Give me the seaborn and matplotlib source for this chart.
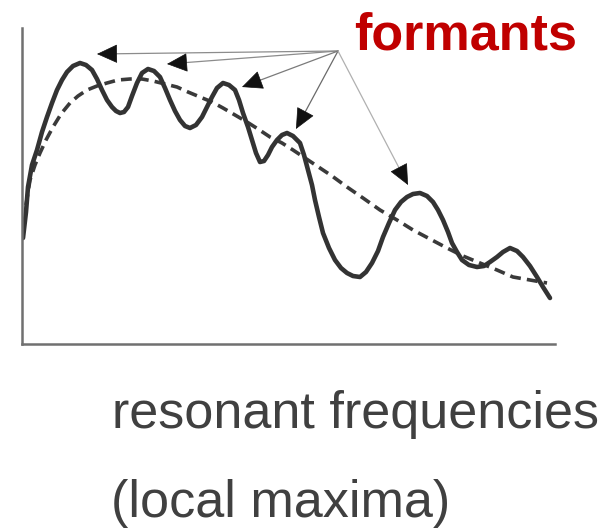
import numpy as np
import pandas as pd
import seaborn as sns
import matplotlib.pyplot as plt

# spectrum (freq / amplitude in arbitrary units)
freq = [1, 4, 6, 10, 15, 20, 25, 30, 35, 40,
        45, 51, 58, 64, 70, 75, 80, 85, 90, 94,
        98, 102, 106, 110, 115, 120, 126, 132, 138, 143,
        148, 153, 158, 163, 168, 174, 180, 185, 190, 195,
        201, 207, 213, 217, 221, 226, 230, 234, 238, 242,
        246, 250, 255, 260, 265, 271, 278, 282, 286, 290,
        293, 297, 301, 307, 313, 319, 325, 331, 338, 344,
        350, 356, 361, 367, 373, 379, 385, 391, 398, 405,
        411, 416, 421, 426, 430, 435, 440, 447, 455, 462,
        468, 475, 481, 488, 495, 501, 508, 515, 521, 528]
amp = [106, 132, 157, 179, 194, 212, 227, 241, 254, 264,
       272, 278, 281, 279, 274, 265, 254, 244, 237, 233,
       231, 232, 237, 248, 261, 271, 275, 273, 267, 256,
       244, 233, 224, 218, 216, 219, 227, 237, 247, 256,
       261, 259, 254, 244, 231, 217, 204, 191, 182, 183,
       189, 197, 204, 209, 211, 208, 201, 189, 174, 159,
       144, 127, 111, 96, 84, 76, 71, 68, 67, 72,
       81, 93, 107, 121, 134, 142, 147, 150, 151, 148,
       142, 134, 124, 112, 101, 92, 84, 79, 77, 78,
       82, 87, 92, 96, 93, 87, 78, 67, 57, 46]

# spectral envelope (dashed)
freq_env = [4, 8, 13, 18, 24, 31, 39, 48, 56, 65,
            75, 85, 96, 108, 120, 131, 143, 155, 166, 178,
            190, 201, 213, 225, 236, 248, 260, 271, 283, 295,
            310, 325, 341, 358, 375, 391, 408, 425, 441, 458,
            475, 491, 508, 525]
amp_env = [139, 164, 179, 191, 204, 217, 230, 241, 248, 254,
           258, 261, 264, 265, 265, 263, 260, 257, 252, 247,
           242, 236, 229, 222, 215, 207, 201, 194, 186, 178,
           168, 157, 146, 134, 124, 114, 105, 96, 88, 81,
           74, 67, 64, 61]

# arrows: common origin and the formant peaks they point to
label_origin = (316, 293)
formant_peaks = [(75, 290), (145, 280), (220, 257), (274, 215), (386, 159)]
arrow_colors = ['#8c8c8c', '#8c8c8c', '#7a7a7a', '#6a6a6a', '#b0b0b0']

spec = pd.DataFrame({'freq': freq, 'amp': amp})
env = pd.DataFrame({'freq': freq_env, 'amp': amp_env})

sns.set_theme(style='white')
plt.rcParams['font.family'] = ['Liberation Sans', 'DejaVu Sans']

fig = plt.figure(figsize=(6.09, 5.31), dpi=100)
ax = fig.add_axes([22 / 609, 187 / 531, 533 / 609, 316 / 531])

sns.lineplot(data=env, x='freq', y='amp', ax=ax, color='#3a3a3a', lw=2.6,
             linestyle=(0, (3.0, 1.7)), sort=False)
sns.lineplot(data=spec, x='freq', y='amp', ax=ax, color='#333333', lw=3.3,
             sort=False)

ax.set_xlim(0, 533)
ax.set_ylim(0, 316)
ax.set_xlabel('')
ax.set_ylabel('')
ax.set_xticks([])
ax.set_yticks([])
for side in ['top', 'right']:
    ax.spines[side].set_visible(False)
for side in ['left', 'bottom']:
    ax.spines[side].set_color('#707070')
    ax.spines[side].set_linewidth(1.8)

# thin grey lines + solid black heads
ox, oy = label_origin
for (px, py), c in zip(formant_peaks, arrow_colors):
    d = np.hypot(ox - px, oy - py)
    bx, by = px + (ox - px) * 18 / d, py + (oy - py) * 18 / d
    ax.annotate('', xy=(bx, by), xytext=(ox, oy),
                arrowprops=dict(arrowstyle='-', color=c, lw=0.9,
                                shrinkA=0, shrinkB=0))
    ax.annotate('', xy=(px, py), xytext=(bx, by),
                arrowprops=dict(arrowstyle='-|>,head_length=1.35,head_width=0.62',
                                mutation_scale=10, color='#111111', lw=0.5,
                                shrinkA=0, shrinkB=0))

fig.text(354 / 609, 1 - 50 / 531, 'formants', color='#c00000',
         fontsize=37.5, fontweight='bold', ha='left', va='baseline')
fig.text(112 / 609, 1 - 428 / 531, 'resonant frequencies', color='#404040',
         fontsize=37.5, ha='left', va='baseline')
fig.text(111 / 609, 1 - 517 / 531, '(local maxima)', color='#404040',
         fontsize=37.5, ha='left', va='baseline')

fig.savefig('out.png', dpi=100)
